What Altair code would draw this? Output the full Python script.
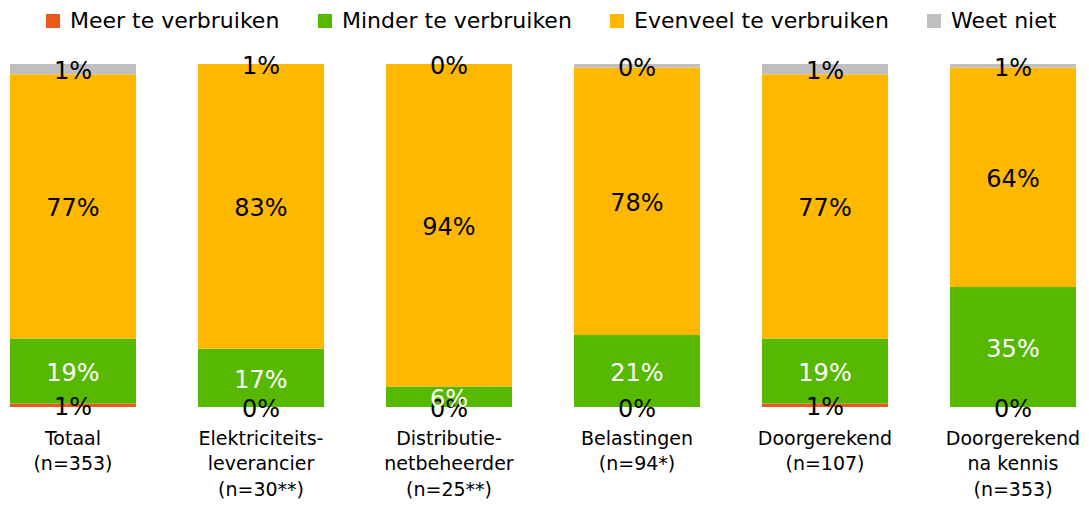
import altair as alt
import pandas as pd

categories = [
    "Totaal|(n=353)",
    "Elektriciteits-|leverancier|(n=30**)",
    "Distributie-|netbeheerder|(n=25**)",
    "Belastingen|(n=94*)",
    "Doorgerekend|(n=107)",
    "Doorgerekend|na kennis|(n=353)",
]
series = ["Meer te verbruiken", "Minder te verbruiken", "Evenveel te verbruiken", "Weet niet"]
colors = ["#E95A1C", "#57B800", "#FFB800", "#BFBFBF"]

# segment sizes as drawn
meer = [1, 0, 0, 0, 1, 0]
minder = [19, 17, 6, 21, 19, 35]
evenveel = [77, 83, 94, 78, 77, 64]
weet = [3, 0, 0, 1, 3, 1]

# printed labels
meer_lbl = ["1%", "0%", "0%", "0%", "1%", "0%"]
minder_lbl = ["19%", "17%", "6%", "21%", "19%", "35%"]
evenveel_lbl = ["77%", "83%", "94%", "78%", "77%", "64%"]
weet_lbl = ["1%", "1%", "0%", "0%", "1%", "1%"]

rows = []
for s_i, (s, vals, lbls) in enumerate(zip(
        series,
        [meer, minder, evenveel, weet],
        [meer_lbl, minder_lbl, evenveel_lbl, weet_lbl])):
    for c, v, l in zip(categories, vals, lbls):
        rows.append({"cat": c, "series": s, "order": s_i, "value": v, "label": l,
                     "tcolor": "white" if s == "Minder te verbruiken" else "black"})
df = pd.DataFrame(rows)

base = alt.Chart(df).transform_stack(
    stack="value", groupby=["cat"], sort=[alt.SortField("order", "ascending")],
    as_=["v0", "v1"], offset="normalize"
).transform_calculate(mid="(datum.v0 + datum.v1) / 2")

x = alt.X("cat:N", sort=categories, title=None,
          scale=alt.Scale(paddingInner=0.33, paddingOuter=0),
          axis=alt.Axis(labelAngle=0, domain=False, ticks=False,
                        labelExpr="split(datum.label, '|')",
                        labelFont="DejaVu Sans", labelFontSize=19,
                        labelColor="black", labelLineHeight=25.5,
                        labelPadding=22, labelBaseline="top"))

bars = base.mark_bar().encode(
    x=x,
    y=alt.Y("v0:Q", scale=alt.Scale(domain=[0, 1]), axis=None),
    y2="v1:Q",
    color=alt.Color("series:N", sort=series,
                    scale=alt.Scale(domain=series, range=colors),
                    legend=alt.Legend(title=None, orient="none", direction="horizontal",
                                      legendX=32, legendY=-54,
                                      symbolType="square", symbolSize=196,
                                      symbolStrokeWidth=0, labelOffset=6,
                                      labelFont="DejaVu Sans", labelFontSize=22,
                                      labelColor="black", columnPadding=34,
                                      labelLimit=400)),
)

texts = base.mark_text(font="DejaVu Sans", fontSize=24, baseline="middle", dy=3).encode(
    x=alt.X("cat:N", sort=categories),
    y=alt.Y("mid:Q", scale=alt.Scale(domain=[0, 1])),
    text="label:N",
    color=alt.Color("tcolor:N", scale=None),
)

chart = alt.layer(bars, texts).properties(
    width=1066, height=343,
    autosize=alt.AutoSizeParams(type="none"),
    padding={"left": 2, "top": 56, "right": 5, "bottom": 93},
).configure_view(stroke=None)

chart.save("out.html", embed_options={"renderer": "svg", "actions": False})
